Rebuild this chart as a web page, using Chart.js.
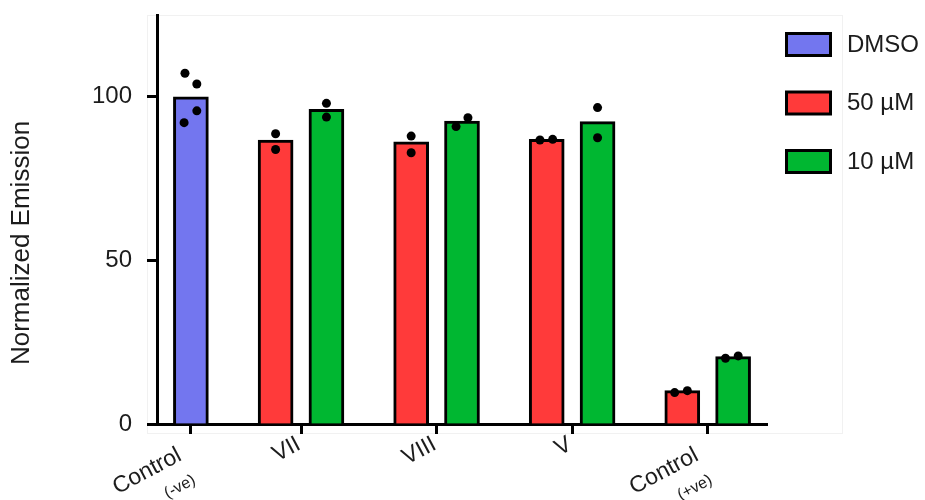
<!DOCTYPE html>
<html>
<head>
<meta charset="utf-8">
<script src="https://cdn.jsdelivr.net/npm/chart.js@4.4.1/dist/chart.umd.min.js"></script>
<style>
  html, body { margin: 0; padding: 0; background: #ffffff; }
  #c { display: block; }
</style>
</head>
<body>
<canvas id="c" width="925" height="500"></canvas>
<script>
// Compounds on the x axis, with the small note written under two of them
const groups = ['Control', 'VII', 'VIII', 'V', 'Control'];
const groupNotes = ['(-ve)', '', '', '', '(+ve)'];
const treatments = ['DMSO', '50 µM', '10 µM'];
const yTickValues = [0, 50, 100];

// Slot of each bar along the x axis (DMSO only appears in the first group)
const dmsoSlots = [0];
const dose50Slots = [5, 13, 21, 29];
const dose10Slots = [8, 16, 24, 32];
const groupTickSlots = [0, 6.5, 14.5, 22.5, 30.5];

// Mean normalized emission per bar
const dmsoMean = [100];
const dose50Mean = [86.8, 86.2, 87.0, 10.2];
const dose10Mean = [96.2, 92.6, 92.4, 20.6];

// Individual replicates per bar
const dmsoReps = [[107.2, 103.9, 95.7, 92.1]];
const dose50Reps = [[88.7, 83.9], [88.0, 82.9], [86.8, 87.0], [9.6, 10.2]];
const dose10Reps = [[98.0, 93.8], [90.9, 93.6], [96.7, 87.5], [20.1, 20.8]];

// Sideways spread of the replicate dots inside each bar, in slot units
const dmsoSpread = [[-0.35, 0.35, 0.35, -0.4]];
const dose50Spread = [[0, 0], [0, 0], [-0.4, 0.35], [-0.45, 0.3]];
const dose10Spread = [[0, 0], [-0.35, 0.35], [0, 0], [-0.45, 0.3]];

const FONT = '"Liberation Sans", Arial, Helvetica, sans-serif';
const TEXT = '#1c1c1c';
const COLORS = ['#7376EF', '#FF3A3A', '#00B731'];

function barSet(label, slots, means, color) {
  return {
    type: 'bar',
    label: label,
    data: slots.map((s, i) => ({ x: s, y: means[i] })),
    backgroundColor: color,
    borderColor: '#000000',
    borderWidth: 3,
    barThickness: 35,
    stack: 'bars',
    order: 2
  };
}

function dots(slots, reps, spread) {
  const out = [];
  slots.forEach((s, i) => {
    reps[i].forEach((v, j) => out.push({ x: s + spread[i][j], y: v }));
  });
  return out;
}

const replicatePoints = [].concat(
  dots(dmsoSlots, dmsoReps, dmsoSpread),
  dots(dose50Slots, dose50Reps, dose50Spread),
  dots(dose10Slots, dose10Reps, dose10Spread)
);

// Frame, rotated category labels, axis title and legend
const decorations = {
  id: 'decorations',
  beforeDraw(chart) {
    const ctx = chart.ctx;
    ctx.save();
    ctx.fillStyle = '#ffffff';
    ctx.fillRect(0, 0, chart.width, chart.height);
    ctx.strokeStyle = '#f1f1f1';
    ctx.lineWidth = 1;
    ctx.strokeRect(147.5, 15.5, 695, 418);
    ctx.restore();
  },
  afterDraw(chart) {
    const ctx = chart.ctx;
    const xs = chart.scales.x;
    const ang = -28 * Math.PI / 180;
    ctx.save();
    ctx.fillStyle = TEXT;

    // category labels
    groupTickSlots.forEach((v, i) => {
      const px = xs.getPixelForValue(v);
      ctx.save();
      ctx.textAlign = 'right';
      ctx.textBaseline = 'middle';
      if (groupNotes[i]) {
        ctx.translate(px - 11, 454);
        ctx.rotate(ang);
        ctx.font = '23px ' + FONT;
        ctx.fillText(groups[i], 0, 0);
        ctx.font = '16px ' + FONT;
        ctx.fillText(groupNotes[i], 1, 29);
      } else {
        ctx.translate(px - 2, 443);
        ctx.rotate(ang);
        ctx.font = '23px ' + FONT;
        ctx.fillText(groups[i], 0, 0);
      }
      ctx.restore();
    });

    // y axis title
    ctx.save();
    ctx.translate(22, 243);
    ctx.rotate(-Math.PI / 2);
    ctx.textAlign = 'center';
    ctx.textBaseline = 'middle';
    ctx.font = '26px ' + FONT;
    ctx.fillText('Normalized Emission', 0, 0);
    ctx.restore();

    // legend
    const rows = [32, 90.5, 149];
    chart.data.datasets.filter(d => d.type === 'bar').forEach((d, i) => {
      const top = rows[i];
      ctx.fillStyle = d.backgroundColor;
      ctx.fillRect(786.5, top + 1.5, 44, 22);
      ctx.strokeStyle = '#000000';
      ctx.lineWidth = 3;
      ctx.strokeRect(786.5, top + 1.5, 44, 22);
      ctx.fillStyle = TEXT;
      ctx.font = '24px ' + FONT;
      ctx.textAlign = 'left';
      ctx.textBaseline = 'middle';
      ctx.fillText(d.label, 847, top + 13);
    });
    ctx.restore();
  }
};

const axisLine = { display: true, color: '#000000', width: 3 };
const tickMarks = {
  display: true,
  offset: false,
  drawOnChartArea: false,
  drawTicks: true,
  tickLength: 10,
  tickWidth: 3,
  tickColor: '#000000'
};

new Chart(document.getElementById('c'), {
  type: 'bar',
  data: {
    datasets: [
      barSet(treatments[0], dmsoSlots, dmsoMean, COLORS[0]),
      barSet(treatments[1], dose50Slots, dose50Mean, COLORS[1]),
      barSet(treatments[2], dose10Slots, dose10Mean, COLORS[2]),
      {
        type: 'scatter',
        label: 'replicates',
        data: replicatePoints,
        pointRadius: 4.5,
        pointBackgroundColor: '#000000',
        pointBorderWidth: 0,
        showLine: false,
        order: 0
      }
    ]
  },
  options: {
    responsive: false,
    devicePixelRatio: 1,
    animation: false,
    layout: { padding: { top: 15, right: 158, bottom: 0, left: 0 } },
    plugins: { legend: { display: false }, tooltip: { enabled: false } },
    scales: {
      x: {
        type: 'linear',
        min: -2,
        max: 34,
        offset: false,
        afterBuildTicks: s => { s.ticks = groupTickSlots.map(v => ({ value: v })); },
        afterFit: s => { s.height = 76; s.paddingLeft = 0; s.paddingRight = 0; },
        ticks: { autoSkip: false, maxRotation: 0, callback: () => '' },
        grid: tickMarks,
        border: axisLine
      },
      y: {
        min: 0,
        max: 125,
        stacked: false,
        afterBuildTicks: s => { s.ticks = yTickValues.map(v => ({ value: v })); },
        afterFit: s => { s.width = 157; s.paddingTop = 0; s.paddingBottom = 0; },
        ticks: { padding: 15, color: TEXT, font: { size: 24, family: FONT } },
        grid: tickMarks,
        border: axisLine
      }
    }
  },
  plugins: [decorations]
});
</script>
</body>
</html>
